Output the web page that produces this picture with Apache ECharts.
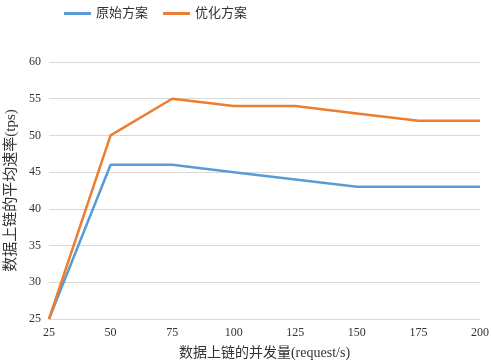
<!DOCTYPE html>
<html>
<head>
<meta charset="utf-8">
<script src="https://cdn.jsdelivr.net/npm/echarts@6/dist/echarts.min.js"></script>
<style>
  html, body { margin: 0; padding: 0; background: #fff; }
  #chart { width: 491px; height: 364px; }
</style>
</head>
<body>
<div id="chart"></div>
<script>
// 并发量 (request/s)
const categories = ["25", "50", "75", "100", "125", "150", "175", "200"];
// 原始方案
const originalData = [25, 46, 46, 45, 44, 43, 43, 43];
// 优化方案
const optimizedData = [25, 50, 55, 54, 54, 53, 52, 52];

const fontFamily = '"Liberation Serif", "Times New Roman", "Noto Sans CJK SC", serif';
const textColor = "#333";

const chart = echarts.init(document.getElementById("chart"));
chart.setOption({
  animation: false,
  textStyle: { fontFamily: fontFamily },
  legend: {
    top: 2,
    left: 59,
    itemWidth: 27,
    itemHeight: 3,
    itemGap: 15,
    icon: "rect",
    textStyle: { fontSize: 13, color: textColor, fontFamily: fontFamily },
    data: ["原始方案", "优化方案"]
  },
  grid: {
    left: 49,
    right: 11,
    top: 62,
    bottom: 45,
    containLabel: false,
    outerBoundsMode: "none"
  },
  xAxis: {
    type: "category",
    data: categories,
    boundaryGap: false,
    name: "数据上链的并发量(request/s)",
    nameLocation: "middle",
    nameGap: 27,
    nameTextStyle: { fontSize: 14, color: textColor, fontFamily: fontFamily },
    axisLine: { show: true, lineStyle: { color: "#d9d9d9" } },
    axisTick: { show: false },
    axisLabel: { color: textColor, fontSize: 12, margin: 8 }
  },
  yAxis: {
    type: "value",
    min: 25,
    max: 60,
    interval: 5,
    name: "数据上链的平均速率(tps)",
    nameLocation: "middle",
    nameGap: 24,
    nameTextStyle: { fontSize: 15, color: textColor, fontFamily: fontFamily },
    axisLine: { show: false },
    axisTick: { show: false },
    axisLabel: { color: textColor, fontSize: 12, margin: 8 },
    splitLine: { lineStyle: { color: "#d9d9d9" } }
  },
  series: [
    {
      name: "原始方案",
      type: "line",
      data: originalData,
      symbol: "none",
      lineStyle: { width: 2.5, color: "#5B9BD5" },
      itemStyle: { color: "#5B9BD5" }
    },
    {
      name: "优化方案",
      type: "line",
      data: optimizedData,
      symbol: "none",
      lineStyle: { width: 2.5, color: "#ED7D31" },
      itemStyle: { color: "#ED7D31" }
    }
  ]
});
</script>
</body>
</html>
